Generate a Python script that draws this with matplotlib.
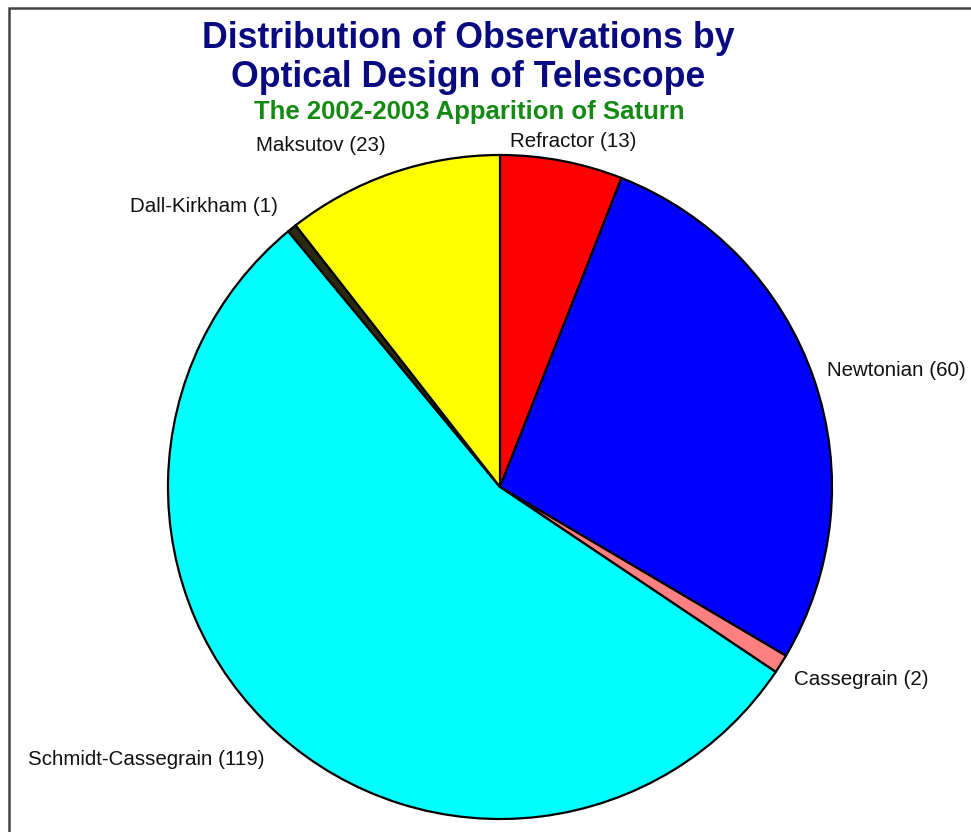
import matplotlib
matplotlib.use("Agg")
import matplotlib.pyplot as plt
from matplotlib.patches import Rectangle

plt.rcParams['font.family'] = ['Liberation Sans', 'DejaVu Sans']

# Observation counts by telescope design
designs = ["Refractor", "Newtonian", "Cassegrain", "Schmidt-Cassegrain",
           "Dall-Kirkham", "Maksutov"]
counts = [13, 60, 2, 119, 1, 23]
colors = ["#ff0000", "#0000ff", "#ff8080", "#00ffff", "#2b2a10", "#ffff00"]

W, H, DPI = 971, 832, 100
fig = plt.figure(figsize=(W / DPI, H / DPI), dpi=DPI)
fig.patch.set_facecolor("white")

# Pie centre and radius in pixels
cx, cy, R = 500, 487, 332
ax = fig.add_axes([0, 0, 1, 1])
ax.pie(counts, colors=colors, startangle=90, counterclock=False,
       wedgeprops=dict(edgecolor="black", linewidth=1.6))
ax.set_xlim(-cx / R, (W - cx) / R)
ax.set_ylim(-(H - cy) / R, cy / R)
ax.set_aspect("equal")
ax.axis("off")

# Label anchors (pie radius = 1) and alignment
label_pos = [(0.030, 1.042, "left"), (0.985, 0.352, "left"),
             (0.886, -0.581, "left"), (-0.708, -0.822, "right"),
             (-0.669, 0.846, "right"), (-0.346, 1.030, "right")]
for name, n, (x, y, ha) in zip(designs, counts, label_pos):
    ax.text(x, y, f"{name} ({n})", ha=ha, va="center", fontsize=14.8,
            color="#111111")

# Titles
fig.text(468 / W, 1 - 48 / H, "Distribution of Observations by",
         ha="center", va="baseline", fontsize=25.7, fontweight="bold",
         color="#0a0a80")
fig.text(468 / W, 1 - 87 / H, "Optical Design of Telescope",
         ha="center", va="baseline", fontsize=25.7, fontweight="bold",
         color="#0a0a80")
fig.text(469 / W, 1 - 119 / H, "The 2002-2003 Apparition of Saturn",
         ha="center", va="baseline", fontsize=18.5, fontweight="bold",
         color="#148a14")

# Chart-area frame
fig.patches.append(Rectangle((9 / W, -0.2), 2.0, 1.2 - 8 / H,
                             transform=fig.transFigure, fill=False,
                             edgecolor="#444444", linewidth=1.8))

fig.savefig("out.png", dpi=DPI, facecolor="white")
